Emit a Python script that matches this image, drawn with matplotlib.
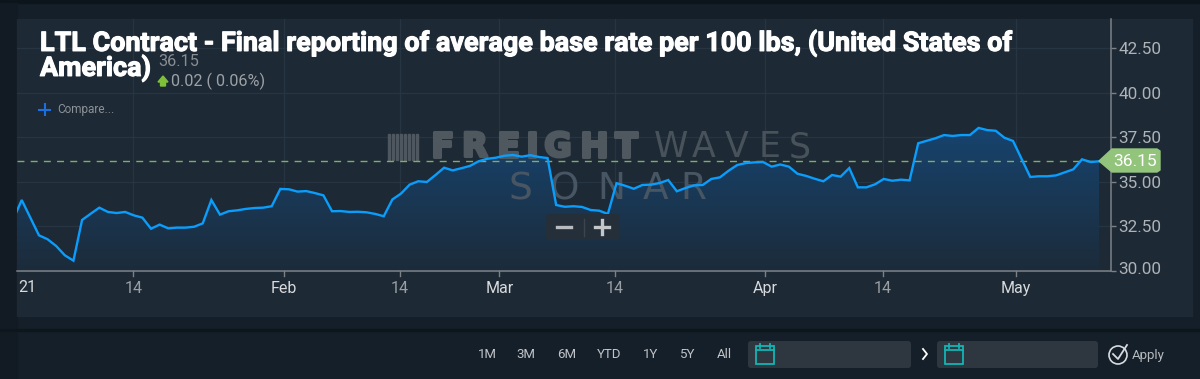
import numpy as np
import matplotlib
matplotlib.use("Agg")
import matplotlib.pyplot as plt
import matplotlib.patheffects as pe
from matplotlib.patches import Rectangle, FancyBboxPatch, Polygon, Circle

rates = [32.88, 33.98, 32.99, 32.00, 31.78, 31.40, 30.88, 30.58, 32.86, 33.21, 33.55, 33.31, 33.25, 33.31, 33.12, 32.99,
         32.37, 32.60, 32.39, 32.43, 32.43, 32.48, 32.67, 33.98, 33.16, 33.35, 33.40, 33.48, 33.53, 33.55, 33.63,
         34.60, 34.58, 34.45, 34.48, 34.37, 34.24, 33.35, 33.36, 33.31, 33.32, 33.29, 33.20, 33.07, 34.01, 34.34,
         34.84, 35.03, 34.99, 35.38, 35.79, 35.64, 35.76, 35.89, 36.15, 36.29, 36.35, 36.46, 36.50, 36.41, 36.49,
         36.39, 36.33, 33.70, 33.60, 33.63, 33.59, 33.42, 33.38, 33.20, 34.92, 34.78, 34.61, 34.82, 34.84, 34.93,
         35.10, 34.47, 34.65, 34.80, 34.82, 35.16, 35.25, 35.62, 35.94, 36.05, 36.09, 36.11, 35.85, 35.97, 35.85,
         35.45, 35.33, 35.17, 35.03, 35.38, 35.29, 35.77, 34.69, 34.69, 34.86, 35.16, 35.06, 35.12, 35.08, 37.16,
         37.30, 37.44, 37.62, 37.57, 37.62, 37.62, 38.02, 37.90, 37.86, 37.47, 37.29, 36.28, 35.27, 35.31, 35.31,
         35.36, 35.53, 35.70, 36.26, 36.11, 36.15]
y_ticks = [30, 32.5, 35, 37.5, 40, 42.5]
x_tick_pos = [13.94, 31.4, 44.9, 56.4, 69.8, 87.2, 100.9, 116.3]
x_tick_labels = ["14", "Feb", "14", "Mar", "14", "Apr", "14", "May"]
last_value = 36.15
ranges = ["1M", "3M", "6M", "YTD", "1Y", "5Y", "All"]
range_x = [487, 526, 567, 609, 651, 688, 724]

W, H = 1200, 379
PANEL = "#1d2935"
LINE = "#0a9dfb"
GRID = "#273543"
AXIS = "#7b8187"

fig = plt.figure(figsize=(12, 3.79), dpi=100, facecolor="#151f29")

# background, drawn in pixels
bg = fig.add_axes([0, 0, 1, 1], zorder=0)
bg.set_xlim(0, W)
bg.set_ylim(H, 0)
bg.axis("off")
bg.add_patch(Rectangle((0, 0), W, 3, color="#0d151c"))
bg.add_patch(Rectangle((0, 3), 17, 376, color="#121b23"))
bg.add_patch(Rectangle((17, 19), 1175, 297, color=PANEL))
bg.add_patch(Rectangle((0, 329), W, 2, color="#0e161d"))
px = bg.transData

# chart
left, right, bottom = 17.3, 1111, 271
step = 8.62
per_px = 2.5 / 44.6
xlim = ((left - 13.1) / step, (right - 13.1) / step)
ylim = (30 - (316 - bottom) * per_px, 30 + (bottom - 19) * per_px)
ax = fig.add_axes([left / W, 1 - 316 / H, (right - left) / W, (316 - 19) / H], zorder=1)
ax.patch.set_alpha(0)
x = np.arange(len(rates))

for t in y_ticks:
    ax.plot(xlim, [t, t], color=GRID, lw=1, zorder=1)
for t in x_tick_pos:
    ax.plot([t, t], [30, ylim[1]], color=GRID, lw=1, zorder=1)

# gradient area under the line
grad = np.linspace(0, 1, 256).reshape(-1, 1)
cmap = matplotlib.colors.LinearSegmentedColormap.from_list("area", ["#17446f", "#1c2b3a"])
im = ax.imshow(grad, cmap=cmap, aspect="auto", zorder=2,
               extent=[0, len(rates) - 1, 30, max(rates)], origin="upper")
poly = ax.fill_between(x, rates, 30, color="none")
im.set_clip_path(poly.get_paths()[0], transform=ax.transData)
ax.set_xlim(xlim)
ax.set_ylim(ylim)

# watermark sits between the area and the line
for i in range(8):
    ax.add_patch(Rectangle((388 + i * 4, 134), 2.2, 26, color="#4e565f", transform=px, zorder=3, clip_on=False))
heavy = [pe.withStroke(linewidth=2.2, foreground="#50585f")]
for ch, cx in zip("FREIGHT", [442, 475, 508, 532, 558, 594, 626]):
    ax.text(cx, 147, ch, family="DejaVu Sans", weight="bold", fontsize=24, color="#50585f",
            ha="center", va="center", transform=px, zorder=3, path_effects=heavy)
for ch, cx in zip("WAVES", [671, 704, 737, 770, 800]):
    ax.text(cx, 147, ch, family="DejaVu Sans", fontsize=25, color="#48525b",
            ha="center", va="center", transform=px, zorder=3)
for ch, cx in zip("SONAR", [520, 565, 611, 656, 693]):
    ax.text(cx, 189, ch, family="DejaVu Sans", fontsize=27, color="#485562",
            ha="center", va="center", transform=px, zorder=3)

ax.plot([xlim[0], len(rates) - 1], [last_value, last_value], color="#82ad62",
        lw=1, ls=(0, (5, 4.5)), zorder=4)
ax.plot(x, rates, color=LINE, lw=1.7, zorder=5, solid_joinstyle="miter")

for s in ["top", "left", "bottom"]:
    ax.spines[s].set_visible(False)
ax.spines["right"].set_color(AXIS)
ax.spines["right"].set_linewidth(1.1)
ax.spines["right"].set_bounds(30, ylim[1])
ax.plot(xlim, [30, 30], color=AXIS, lw=1.1, zorder=6, clip_on=False)
ax.yaxis.tick_right()
ax.set_yticks(y_ticks)
ax.set_yticklabels(["%.2f" % t for t in y_ticks], family="Roboto", fontsize=12.3, color="#aeb3b8")
ax.tick_params(axis="y", length=3.5, width=1, color=AXIS, pad=2)
# lowest label sits a little above its tick
low = ax.get_yticklabels()[0]
low.set_transform(low.get_transform() + matplotlib.transforms.ScaledTranslation(0, 3 / 100, fig.dpi_scale_trans))
ax.set_xticks([])
for t, lab in zip(x_tick_pos, x_tick_labels):
    ax.plot([t, t], [30, 30 - 5 * per_px], color=AXIS, lw=1, clip_on=False, zorder=6)
    col = "#9a9fa4" if lab == "14" else "#d8dadc"
    ax.text(t, 30 - 17.5 * per_px, lab, ha="center", va="center", family="Roboto", fontsize=11.5, color=col)

# overlay, drawn in pixels
ov = fig.add_axes([0, 0, 1, 1], zorder=2)
ov.patch.set_alpha(0)
ov.set_xlim(0, W)
ov.set_ylim(H, 0)
ov.axis("off")

ov.text(18, 288, "21", ha="left", va="center", family="Roboto", fontsize=11.5, color="#d8dadc")

fat = [pe.withStroke(linewidth=0.8, foreground="white")]
ov.text(40, 43, "LTL Contract - Final reporting of average base rate per 100 lbs, (United States of",
        family="Roboto", weight="bold", fontsize=19.4, color="white", ha="left", va="center", path_effects=fat)
ov.text(40, 68, "America)", family="Roboto", weight="bold", fontsize=19.4, color="white", ha="left", va="center",
        path_effects=fat)
ov.text(158, 61, "36.15", family="Roboto", fontsize=11.7, color="#878d93", ha="left", va="center")
ov.add_patch(Polygon([(158, 82), (163, 76), (168, 82), (165.5, 82), (165.5, 86), (160.5, 86), (160.5, 82)],
                     color="#7fbf3a"))
ov.text(171, 81, "0.02 ( 0.06%)", family="Roboto", fontsize=11.7, color="#9ca1a6", ha="left", va="center")
ov.plot([39, 50], [109.5, 109.5], color="#1c6fe0", lw=1.5)
ov.plot([44.5, 44.5], [104, 115], color="#1c6fe0", lw=1.5)
ov.text(57, 110, "Compare...", family="Roboto", fontsize=8.5, color="#8b9197", ha="left", va="center")

# last value flag
ov.add_patch(Polygon([(1099, 161), (1112, 149), (1157, 149), (1160, 151), (1160, 170), (1157, 172), (1112, 172)],
                     color="#92c47c"))
ov.text(1135, 161, "%.2f" % last_value, family="Roboto", fontsize=12.5, color="white", ha="center", va="center")

# zoom buttons
ov.add_patch(FancyBboxPatch((546, 214), 74, 26, boxstyle="round,pad=0,rounding_size=3", fc="#242f3a", ec="none"))
ov.plot([584, 584], [219, 236], color="#3a454f", lw=1)
ov.plot([557, 571], [227, 227], color="#b8bcc0", lw=2.4)
ov.plot([595, 609], [227, 227], color="#c4c7ca", lw=2.4)
ov.plot([602, 602], [220, 234], color="#c4c7ca", lw=2.4)

# bottom bar
for lab, lx in zip(ranges, range_x):
    ov.text(lx, 355, lab, family="Roboto", fontsize=9.5, color="#c0c4c8", ha="center", va="center")
for bx, bw in [(748, 163), (937, 161)]:
    ov.add_patch(FancyBboxPatch((bx, 341), bw, 27, boxstyle="round,pad=0,rounding_size=3", fc="#2e3740", ec="none"))
    ov.add_patch(Rectangle((bx + 8, 346), 18, 18, fc="none", ec="#12b5b5", lw=1.3))
    ov.plot([bx + 8, bx + 26], [350, 350], color="#12b5b5", lw=1.3)
    ov.plot([bx + 12, bx + 12], [344, 348], color="#12b5b5", lw=1.3)
    ov.plot([bx + 22, bx + 22], [344, 348], color="#12b5b5", lw=1.3)
ov.plot([923, 927, 923], [349, 354, 359], color="white", lw=1.3)
ov.add_patch(Circle((1118, 355), 9, fc="none", ec="#d8dadc", lw=1.2))
ov.plot([1113, 1118, 1127], [354, 359, 345], color="#d8dadc", lw=1.3)
ov.text(1132, 355, "Apply", family="Roboto", fontsize=9.5, color="#b6babd", ha="left", va="center")

fig.savefig("out.png", dpi=100, facecolor=fig.get_facecolor())
